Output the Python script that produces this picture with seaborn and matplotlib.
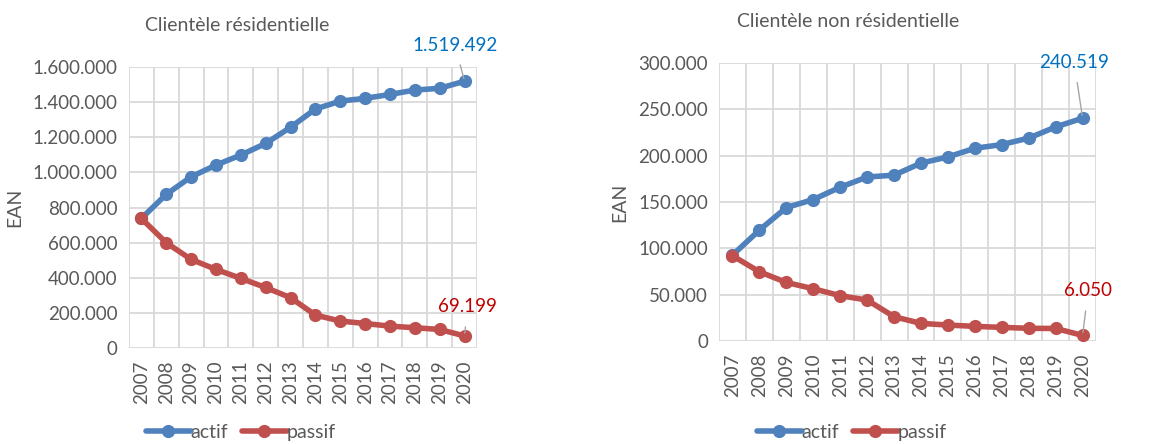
import pandas as pd
import matplotlib
matplotlib.use("Agg")
import matplotlib.pyplot as plt
from matplotlib.ticker import FuncFormatter, MultipleLocator
import seaborn as sns

# Data
years = [str(y) for y in range(2007, 2021)]
res_actif = [738000, 875000, 975000, 1042000, 1099000, 1165000, 1257000,
             1361000, 1406000, 1422000, 1444000, 1469000, 1479000, 1519492]
res_passif = [738000, 600000, 505000, 448000, 397000, 345000, 287000,
              188000, 154000, 140000, 125000, 116000, 106000, 69199]
nres_actif = [92700, 119700, 144000, 152700, 166000, 177000, 179000,
              192000, 198700, 208000, 212000, 219000, 231000, 240519]
nres_passif = [92000, 74700, 63200, 56400, 48900, 44200, 26200,
               19000, 17200, 15800, 14700, 13700, 13500, 6050]

series_names = ["actif", "passif"]
line_colors = ["#4F81BD", "#C0504D"]
label_colors = ["#0070C0", "#C00000"]
text_grey = "#595959"
grid_grey = "#D9D9D9"

sns.set_style("white")
plt.rcParams["font.family"] = ["Lato", "DejaVu Sans"]


def thousands(v, pos):
    return f"{v:,.0f}".replace(",", ".")


def draw_panel(ax, actif, passif, title, ymax, ystep, offsets, legend_x):
    df = pd.DataFrame({
        "pos": list(range(len(years))) * 2,
        "value": actif + passif,
        "serie": ["actif"] * len(years) + ["passif"] * len(years),
    })
    sns.lineplot(data=df, x="pos", y="value", hue="serie",
                 palette=dict(zip(series_names, line_colors)),
                 marker="o", markersize=9.5, markeredgewidth=0,
                 linewidth=4, ax=ax, legend=True)

    ax.set_xlim(-0.5, len(years) - 0.5)
    ax.set_ylim(0, ymax)
    ax.set_xticks(range(len(years)))
    ax.set_xticklabels(years, rotation=90)
    ax.xaxis.set_minor_locator(MultipleLocator(1, offset=0.5))
    ax.yaxis.set_major_locator(MultipleLocator(ystep))
    ax.yaxis.set_major_formatter(FuncFormatter(thousands))
    ax.grid(True, which="major", axis="y", color=grid_grey, lw=1.3)
    ax.grid(True, which="minor", axis="x", color=grid_grey, lw=1.3)
    ax.grid(False, which="major", axis="x")
    ax.set_axisbelow(True)
    for s in ax.spines.values():
        s.set_visible(False)
    ax.tick_params(axis="both", which="both", length=0, labelsize=13.5,
                   labelcolor=text_grey)
    ax.tick_params(axis="x", pad=9)
    ax.tick_params(axis="y", pad=8)
    ax.set_xlabel("")
    ax.set_ylabel("EAN", fontsize=14, color=text_grey)
    ax.set_title(title, fontsize=14, color=text_grey, pad=26)

    # value labels on the last point
    last = len(years) - 1
    for vals, col, off in zip([actif, passif], label_colors, offsets):
        ax.annotate(thousands(vals[-1], None), xy=(last, vals[-1]),
                    xytext=off, textcoords="offset points",
                    ha="center", va="center", fontsize=13.5, color=col,
                    arrowprops=dict(arrowstyle="-", color="#A6A6A6", lw=1,
                                    shrinkA=6, shrinkB=2))

    handles, labels = ax.get_legend_handles_labels()
    ax.legend(handles, labels, loc="center",
              bbox_to_anchor=(legend_x, 0.027), bbox_transform=fig.transFigure,
              ncol=2, frameon=False, fontsize=14, handlelength=2.3,
              columnspacing=0.7, handletextpad=0.0, labelcolor=text_grey,
              borderaxespad=0, borderpad=0)


fig = plt.figure(figsize=(11.72, 4.44), dpi=100)
ax1 = fig.add_axes([0.110, 0.216, 0.297, 0.633])
ax2 = fig.add_axes([0.6135, 0.232, 0.3217, 0.626])

draw_panel(ax1, res_actif, res_passif, "Clientèle résidentielle",
           1600000, 200000, [(-7, 26), (2, 21)], 241 / 1172)
draw_panel(ax2, nres_actif, nres_passif, "Clientèle non résidentielle",
           300000, 50000, [(-6, 40), (4, 32)], 852 / 1172)

ax1.yaxis.set_label_coords(-0.305, 0.5)
ax2.yaxis.set_label_coords(-0.242, 0.5)
ax1.title.set_position((0.31, 1.0))
ax2.title.set_position((0.342, 1.0))

fig.savefig("out.png", dpi=100)
